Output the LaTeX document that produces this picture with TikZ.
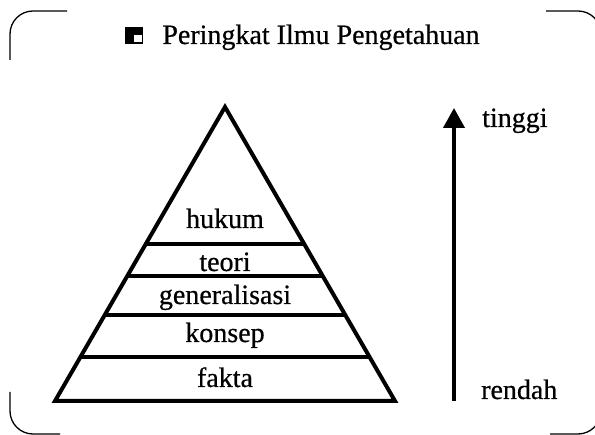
\documentclass[tikz,border=0pt]{standalone}
\usepackage{fontspec}
\setmainfont{Liberation Serif}
\newfontfamily\heavyfont{Liberation Serif}[FakeBold=0.6]
\usetikzlibrary{arrows.meta,calc}
\begin{document}
\begin{tikzpicture}[x=1pt,y=-1pt,
  frame/.style={line width=1.3pt, rounded corners=23pt},
  tier/.style={line width=4pt},
  lbl/.style={anchor=base, inner sep=0pt, font=\heavyfont\fontsize{28}{32}\selectfont},
  side/.style={anchor=base west, inner sep=0pt, font=\heavyfont\fontsize{28}{32}\selectfont},
]
\useasboundingbox (0,0) rectangle (595,435);
% frame corners
\draw[frame] (10,60) -- (10,11) -- (67,11);
\draw[frame] (546,11) -- (601,11) -- (601,60);
\draw[frame] (10,392) -- (10,434) -- (60,434);
\draw[frame] (550,434) -- (601,434) -- (601,390);
% title
\fill (125,27) rectangle (143,44);
\fill[white] (133.5,35) rectangle (141.5,42.5);
\node[lbl] (title) at (321,44) {Peringkat Ilmu Pengetahuan};
% pyramid
\coordinate (apex) at (225,107);
\coordinate (bl) at (55,401);
\coordinate (br) at (395,401);
\draw[tier, line join=miter] (apex) -- (bl) -- (br) -- cycle;
\foreach \t in {0.466,0.575,0.7075,0.850}{
  \draw[tier] ($(apex)!\t!(bl)$) -- ($(apex)!\t!(br)$);
}
\node[lbl] (hukum) at (225,228) {hukum};
\node[lbl] (teori) at (225,271) {teori};
\node[lbl] (gen) at (225,304) {generalisasi};
\node[lbl] (konsep) at (225,342) {konsep};
\node[lbl] (fakta) at (225,387) {fakta};
% arrow
\coordinate (abot) at (454,401);
\coordinate (atop) at (454,108);
\draw[line width=4pt, -{Triangle[width=21pt,length=20pt]}] (abot) -- (atop);
\node[side] (tinggi) at (482,127) {tinggi};
\node[side] (rendah) at (481,399) {rendah};
\end{tikzpicture}
\end{document}
